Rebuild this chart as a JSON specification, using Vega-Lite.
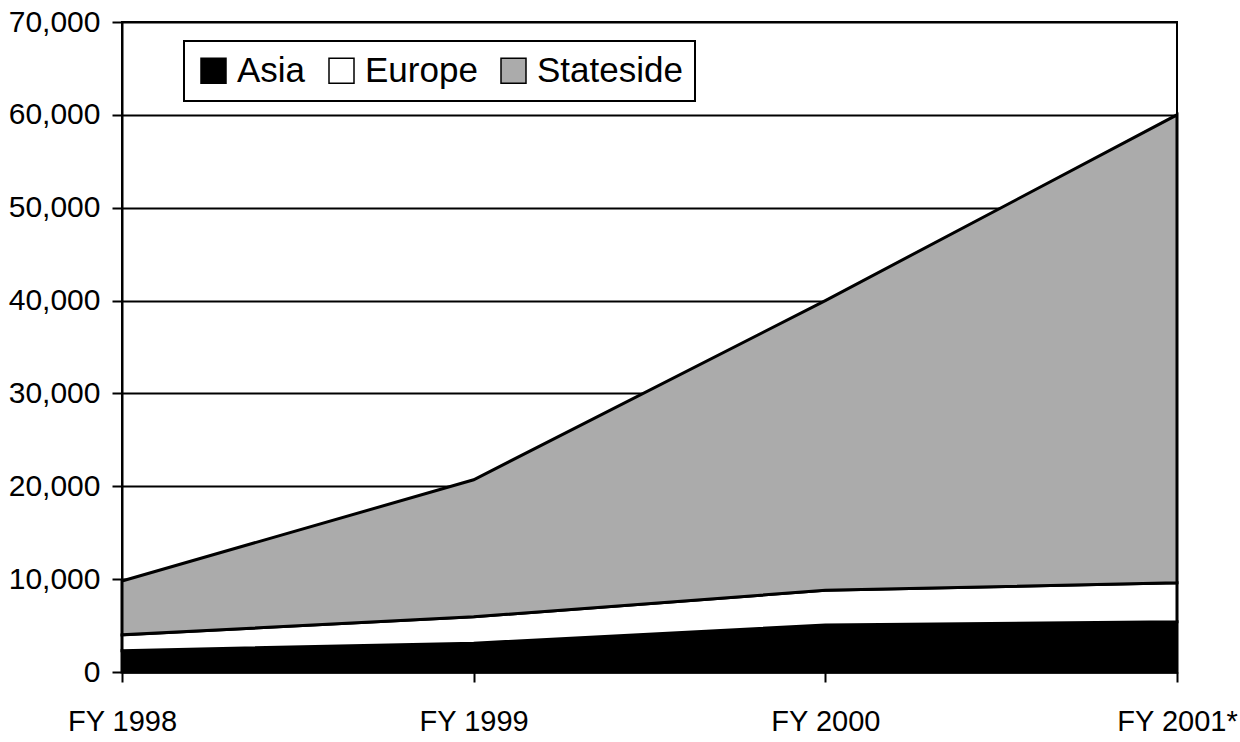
{
  "$schema": "https://vega.github.io/schema/vega-lite/v6.json",
  "width": 1055,
  "height": 650,
  "autosize": {"type": "none"},
  "padding": {"left": 122, "top": 22, "right": 63, "bottom": 70},
  "background": "white",
  "config": {
    "view": {"stroke": "black", "strokeWidth": 2},
    "font": "Liberation Sans"
  },
  "data": {
    "values": [
      {"year": "FY 1998", "region": "Asia", "value": 2300},
      {"year": "FY 1998", "region": "Europe", "value": 1700},
      {"year": "FY 1998", "region": "Stateside", "value": 5800},
      {"year": "FY 1999", "region": "Asia", "value": 3100},
      {"year": "FY 1999", "region": "Europe", "value": 2850},
      {"year": "FY 1999", "region": "Stateside", "value": 14750},
      {"year": "FY 2000", "region": "Asia", "value": 5050},
      {"year": "FY 2000", "region": "Europe", "value": 3750},
      {"year": "FY 2000", "region": "Stateside", "value": 31200},
      {"year": "FY 2001*", "region": "Asia", "value": 5400},
      {"year": "FY 2001*", "region": "Europe", "value": 4200},
      {"year": "FY 2001*", "region": "Stateside", "value": 50400}
    ]
  },
  "mark": {"type": "area", "stroke": "black", "strokeWidth": 3, "opacity": 1, "fillOpacity": 1},
  "encoding": {
    "x": {
      "field": "year",
      "type": "ordinal",
      "scale": {"type": "point", "padding": 0},
      "axis": {
        "title": null,
        "labelAngle": 0,
        "labelFontSize": 29,
        "labelColor": "black",
        "labelPadding": 25,
        "labelOverlap": false,
        "tickSize": 10,
        "tickWidth": 2,
        "tickColor": "black",
        "domainColor": "black",
        "domainWidth": 2
      }
    },
    "y": {
      "field": "value",
      "type": "quantitative",
      "stack": "zero",
      "scale": {"domain": [0, 70000], "nice": false},
      "axis": {
        "title": null,
        "values": [0, 10000, 20000, 30000, 40000, 50000, 60000, 70000],
        "format": ",d",
        "grid": true,
        "gridColor": "black",
        "gridWidth": 2,
        "gridOpacity": 1,
        "domainColor": "black",
        "domainWidth": 2,
        "tickColor": "black",
        "tickWidth": 2,
        "tickSize": 10,
        "labelFontSize": 30,
        "labelColor": "black",
        "labelPadding": 12
      }
    },
    "order": {"field": "region", "sort": "ascending"},
    "color": {
      "field": "region",
      "type": "nominal",
      "scale": {"domain": ["Asia", "Europe", "Stateside"], "range": ["#000000", "#ffffff", "#ababab"]},
      "legend": {
        "orient": "none",
        "legendX": 62,
        "legendY": 19,
        "direction": "horizontal",
        "title": null,
        "symbolType": "square",
        "symbolSize": 625,
        "symbolStrokeColor": "black",
        "symbolStrokeWidth": 1.5,
        "symbolOpacity": 1,
        "labelFontSize": 35,
        "labelColor": "black",
        "labelOffset": 6,
        "columnPadding": 18,
        "padding": 12,
        "strokeColor": "black",
        "fillColor": "white",
        "encode": {"legend": {"update": {"strokeWidth": {"value": 2}}}}
      }
    }
  }
}
